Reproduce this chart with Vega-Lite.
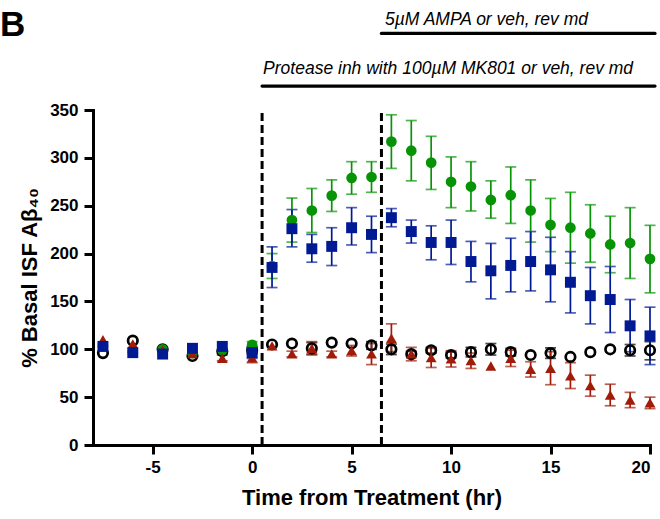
{
  "$schema": "https://vega.github.io/schema/vega-lite/v6.json",
  "width": 557,
  "height": 335,
  "autosize": {"type": "none"},
  "padding": {"left": 93, "top": 110, "right": 10, "bottom": 74},
  "background": "white",
  "title": {"text": "B", "anchor": "start", "frame": "group", "font": "Liberation Sans", "fontSize": 35, "fontWeight": "bold", "color": "black", "dx": -93, "offset": -60, "baseline": "alphabetic"},
  "config": {
    "view": {"stroke": null},
    "axis": {
      "grid": false, "domainColor": "black", "domainWidth": 3, "domainCap": "square",
      "tickColor": "black", "tickWidth": 3, "tickSize": 9,
      "labelFont": "Liberation Sans", "labelFontSize": 17, "labelFontWeight": "bold", "labelColor": "black",
      "titleFont": "Liberation Sans", "titleFontSize": 22, "titleFontWeight": "bold", "titleColor": "black"
    }
  },
  "datasets": {
    "pts": [
      {"g":"veh","t":-7.5,"v":96},
      {"g":"veh","t":-6,"v":109},
      {"g":"veh","t":-4.5,"v":100},
      {"g":"veh","t":-3,"v":93},
      {"g":"veh","t":-1.5,"v":98},
      {"g":"veh","t":0,"v":99,"lo":95,"hi":103},
      {"g":"veh","t":1,"v":105},
      {"g":"veh","t":2,"v":106},
      {"g":"veh","t":3,"v":101,"lo":95,"hi":107},
      {"g":"veh","t":4,"v":107},
      {"g":"veh","t":5,"v":106},
      {"g":"veh","t":6,"v":104,"lo":100,"hi":108},
      {"g":"veh","t":7,"v":100,"lo":94.5,"hi":105.5},
      {"g":"veh","t":8,"v":95,"lo":92,"hi":98},
      {"g":"veh","t":9,"v":99,"lo":96,"hi":102},
      {"g":"veh","t":10,"v":94,"lo":91,"hi":97},
      {"g":"veh","t":11,"v":97,"lo":92,"hi":102},
      {"g":"veh","t":12,"v":100,"lo":94,"hi":106},
      {"g":"veh","t":13,"v":97,"lo":93,"hi":101},
      {"g":"veh","t":14,"v":94},
      {"g":"veh","t":15,"v":96,"lo":90.5,"hi":101.5},
      {"g":"veh","t":16,"v":92},
      {"g":"veh","t":17,"v":97},
      {"g":"veh","t":18,"v":100},
      {"g":"veh","t":19,"v":99,"lo":93,"hi":105},
      {"g":"veh","t":20,"v":99,"lo":89,"hi":108},
      {"g":"AMPA","t":-7.5,"v":103},
      {"g":"AMPA","t":-6,"v":97},
      {"g":"AMPA","t":-4.5,"v":100},
      {"g":"AMPA","t":-3,"v":96},
      {"g":"AMPA","t":-1.5,"v":99},
      {"g":"AMPA","t":0,"v":104.6,"lo":101,"hi":108},
      {"g":"AMPA","t":1,"v":187,"lo":174,"hi":200},
      {"g":"AMPA","t":2,"v":235,"lo":212,"hi":258},
      {"g":"AMPA","t":3,"v":245,"lo":222,"hi":268},
      {"g":"AMPA","t":4,"v":260.5,"lo":244,"hi":277},
      {"g":"AMPA","t":5,"v":279,"lo":262,"hi":296},
      {"g":"AMPA","t":6,"v":280,"lo":264,"hi":296},
      {"g":"AMPA","t":7,"v":317,"lo":289,"hi":345},
      {"g":"AMPA","t":8,"v":307.5,"lo":276,"hi":339},
      {"g":"AMPA","t":9,"v":295,"lo":267,"hi":322.5},
      {"g":"AMPA","t":10,"v":275,"lo":248,"hi":301},
      {"g":"AMPA","t":11,"v":270,"lo":244.5,"hi":296},
      {"g":"AMPA","t":12,"v":256,"lo":237,"hi":276},
      {"g":"AMPA","t":13,"v":261,"lo":231.5,"hi":290.5},
      {"g":"AMPA","t":14,"v":245,"lo":212,"hi":277},
      {"g":"AMPA","t":15,"v":230,"lo":202,"hi":257.6},
      {"g":"AMPA","t":16,"v":227,"lo":190,"hi":264},
      {"g":"AMPA","t":17,"v":221,"lo":191,"hi":251},
      {"g":"AMPA","t":18,"v":209.5,"lo":180,"hi":239},
      {"g":"AMPA","t":19,"v":211,"lo":174,"hi":248},
      {"g":"AMPA","t":20,"v":194.5,"lo":159,"hi":229.5},
      {"g":"MK801","t":-7.5,"v":110},
      {"g":"MK801","t":-6,"v":105.6},
      {"g":"MK801","t":-4.5,"v":99},
      {"g":"MK801","t":-3,"v":95.5},
      {"g":"MK801","t":-1.5,"v":90.7,"lo":88,"hi":94},
      {"g":"MK801","t":0,"v":91,"lo":86,"hi":96},
      {"g":"MK801","t":1,"v":103.6},
      {"g":"MK801","t":2,"v":95.2,"lo":92,"hi":98},
      {"g":"MK801","t":3,"v":101,"lo":94,"hi":108},
      {"g":"MK801","t":4,"v":95.2,"lo":92,"hi":98},
      {"g":"MK801","t":5,"v":98.6,"lo":93,"hi":104},
      {"g":"MK801","t":6,"v":95.2,"lo":84,"hi":106},
      {"g":"MK801","t":7,"v":111.6,"lo":97.6,"hi":126.6},
      {"g":"MK801","t":8,"v":95.2,"lo":88,"hi":102},
      {"g":"MK801","t":9,"v":91.3,"lo":81,"hi":101},
      {"g":"MK801","t":10,"v":90,"lo":81.5,"hi":98.5},
      {"g":"MK801","t":11,"v":88.2,"lo":80,"hi":96},
      {"g":"MK801","t":12,"v":82.6},
      {"g":"MK801","t":13,"v":90.7,"lo":82,"hi":99},
      {"g":"MK801","t":14,"v":79.2,"lo":71,"hi":87},
      {"g":"MK801","t":15,"v":80.2,"lo":63,"hi":97.5},
      {"g":"MK801","t":16,"v":72.2,"lo":59,"hi":86},
      {"g":"MK801","t":17,"v":62,"lo":51,"hi":73},
      {"g":"MK801","t":18,"v":52.3,"lo":41,"hi":63.5},
      {"g":"MK801","t":19,"v":47,"lo":39,"hi":55},
      {"g":"MK801","t":20,"v":44.2,"lo":38,"hi":50},
      {"g":"AMPA+MK801","t":-7.5,"v":103},
      {"g":"AMPA+MK801","t":-6,"v":96.5},
      {"g":"AMPA+MK801","t":-4.5,"v":95},
      {"g":"AMPA+MK801","t":-3,"v":101},
      {"g":"AMPA+MK801","t":-1.5,"v":103},
      {"g":"AMPA+MK801","t":0,"v":96.5,"lo":90.5,"hi":102.5},
      {"g":"AMPA+MK801","t":1,"v":185.5,"lo":164.5,"hi":207},
      {"g":"AMPA+MK801","t":2,"v":226,"lo":207,"hi":246},
      {"g":"AMPA+MK801","t":3,"v":205,"lo":191,"hi":220},
      {"g":"AMPA+MK801","t":4,"v":207.5,"lo":187.5,"hi":227},
      {"g":"AMPA+MK801","t":5,"v":227,"lo":209,"hi":248},
      {"g":"AMPA+MK801","t":6,"v":220,"lo":201,"hi":239},
      {"g":"AMPA+MK801","t":7,"v":237.5,"lo":228,"hi":247},
      {"g":"AMPA+MK801","t":8,"v":223,"lo":211,"hi":235},
      {"g":"AMPA+MK801","t":9,"v":211.6,"lo":193.5,"hi":229},
      {"g":"AMPA+MK801","t":10,"v":211.6,"lo":188.6,"hi":235},
      {"g":"AMPA+MK801","t":11,"v":191.7,"lo":170.5,"hi":212.7},
      {"g":"AMPA+MK801","t":12,"v":182,"lo":152.7,"hi":210.6},
      {"g":"AMPA+MK801","t":13,"v":187.6,"lo":160,"hi":216},
      {"g":"AMPA+MK801","t":14,"v":191.7,"lo":161,"hi":223},
      {"g":"AMPA+MK801","t":15,"v":183,"lo":149.6,"hi":217},
      {"g":"AMPA+MK801","t":16,"v":170,"lo":138,"hi":202},
      {"g":"AMPA+MK801","t":17,"v":156,"lo":126.5,"hi":185.5},
      {"g":"AMPA+MK801","t":18,"v":152,"lo":117.5,"hi":186.5},
      {"g":"AMPA+MK801","t":19,"v":124.5,"lo":97.5,"hi":152},
      {"g":"AMPA+MK801","t":20,"v":114,"lo":84,"hi":144}
    ],
    "events": [{"t": 0.5}, {"t": 6.5}],
    "bars": [
      {"t": 6.5, "t2": 20.25, "v": 430, "label": "5µM AMPA or veh, rev md", "tx": 6.68, "tv": 439},
      {"t": 0.5, "t2": 20.25, "v": 375, "label": "Protease inh with 100µM MK801 or veh, rev md", "tx": 0.55, "tv": 388}
    ]
  },
  "layer": [
    {
      "data": {"name": "events"},
      "mark": {"type": "rule", "color": "black", "strokeWidth": 3, "strokeDash": [8, 4]},
      "encoding": {
        "x": {"field": "t", "type": "quantitative", "scale": {"domain": [-8, 20], "nice": false, "zero": false},
              "title": "Time from Treatment (hr)",
              "axis": {"values": [-5, 0, 5, 10, 15, 20], "labelPadding": 5, "titlePadding": 12, "labelExpr": "toString(datum.value)"}},
        "y": {"datum": 0, "type": "quantitative", "scale": {"domain": [0, 350], "nice": false},
              "title": "% Basal ISF Aβ₄₀",
              "axis": {"values": [0, 50, 100, 150, 200, 250, 300, 350], "labelPadding": 6, "titlePadding": 8}},
        "y2": {"datum": 350}
      }
    },
    {
      "data": {"name": "bars"},
      "mark": {"type": "rule", "color": "black", "strokeWidth": 3.3, "strokeCap": "round", "clip": false},
      "encoding": {
        "x": {"field": "t", "type": "quantitative", "title": "Time from Treatment (hr)"},
        "x2": {"field": "t2"},
        "y": {"field": "v", "type": "quantitative", "title": "% Basal ISF Aβ₄₀"}
      }
    },
    {
      "data": {"name": "bars"},
      "mark": {"type": "text", "align": "left", "baseline": "alphabetic", "font": "Liberation Sans", "fontSize": 17.5, "fontStyle": "italic", "color": "black", "clip": false},
      "encoding": {
        "x": {"field": "tx", "type": "quantitative", "title": "Time from Treatment (hr)"},
        "y": {"field": "tv", "type": "quantitative", "title": "% Basal ISF Aβ₄₀"},
        "text": {"field": "label"}
      }
    },
    {
      "data": {"name": "pts"},
      "transform": [{"filter": "isValid(datum.lo)"}],
      "mark": {"type": "errorbar", "thickness": 1.7, "ticks": {"size": 11, "thickness": 1.7}},
      "encoding": {
        "x": {"field": "t", "type": "quantitative", "title": "Time from Treatment (hr)"},
        "y": {"field": "lo", "type": "quantitative", "title": "% Basal ISF Aβ₄₀"},
        "y2": {"field": "hi"},
        "color": {"field": "g", "type": "nominal", "legend": null,
                  "scale": {"domain": ["veh", "AMPA", "MK801", "AMPA+MK801"], "range": ["#000000", "#069406", "#a01c08", "#001a94"]}}
      }
    },
    {
      "data": {"name": "pts"},
      "transform": [{"filter": "datum.g == 'veh'"}],
      "mark": {"type": "point", "shape": "circle", "filled": false, "size": 90, "strokeWidth": 2.7, "color": "black", "opacity": 1},
      "encoding": {
        "x": {"field": "t", "type": "quantitative", "title": "Time from Treatment (hr)"},
        "y": {"field": "v", "type": "quantitative", "title": "% Basal ISF Aβ₄₀"}
      }
    },
    {
      "data": {"name": "pts"},
      "transform": [{"filter": "datum.g != 'veh'"}],
      "mark": {"type": "point", "filled": true, "opacity": 1},
      "encoding": {
        "x": {"field": "t", "type": "quantitative", "title": "Time from Treatment (hr)"},
        "y": {"field": "v", "type": "quantitative", "title": "% Basal ISF Aβ₄₀"},
        "color": {"field": "g", "type": "nominal", "legend": null},
        "shape": {"field": "g", "type": "nominal", "legend": null,
                  "scale": {"domain": ["AMPA", "MK801", "AMPA+MK801"], "range": ["circle", "triangle-up", "square"]}},
        "size": {"field": "g", "type": "nominal", "legend": null,
                 "scale": {"domain": ["AMPA", "MK801", "AMPA+MK801"], "range": [115, 120, 125]}}
      }
    }
  ]
}
